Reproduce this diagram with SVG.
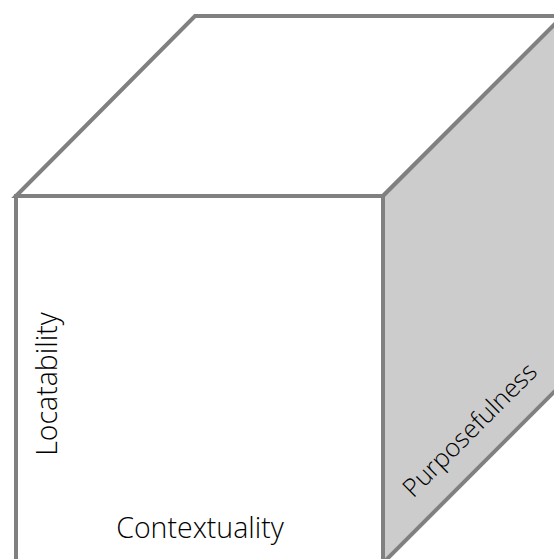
<svg xmlns="http://www.w3.org/2000/svg" width="554" height="559" viewBox="0 0 554 559">
<style>
.face{stroke:#808080;stroke-width:4;stroke-linejoin:miter}
.lbl{font-family:"Open Sans","Liberation Sans",sans-serif;font-weight:300;font-size:28.5px;fill:#000}
</style>
<rect width="554" height="559" fill="#fff"/>
<g id="top"><polygon class="face" fill="#fff" points="16,196 195,16 563,16 383,196"/></g>
<g id="right"><polygon class="face" fill="#cccccc" points="383,196 563,16 563,383 383,563"/></g>
<g id="front"><polygon class="face" fill="#fff" points="16,196 383,196 383,563 16,563"/></g>
<g id="labels">
<text class="lbl" x="200" y="538" text-anchor="middle">Contextuality</text>
<text class="lbl" transform="translate(57,384) rotate(-90)" text-anchor="middle">Locatability</text>
<text class="lbl" style="font-size:25.5px" transform="translate(476,436) rotate(-45)" text-anchor="middle">Purposefulness</text>
</g>
</svg>
